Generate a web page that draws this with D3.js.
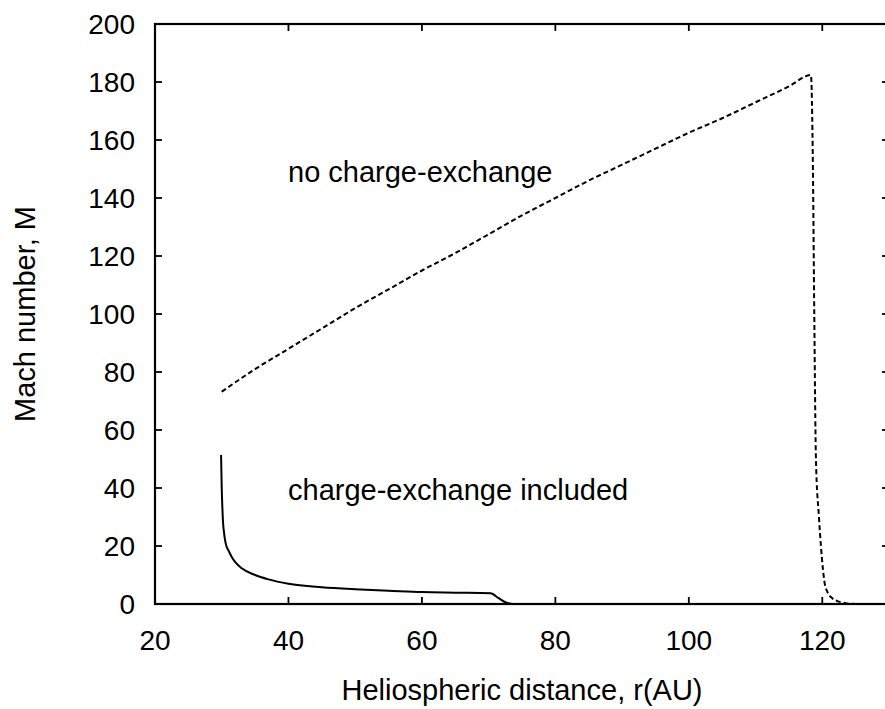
<!DOCTYPE html>
<html lang="en">
<head>
    <meta charset="UTF-8">
    <title>Mach number vs heliospheric distance</title>
    <script src="https://d3js.org/d3.v7.min.js"></script>
    <style>
        body {
            margin: 0;
            background: #fff;
            font-family: "Liberation Sans", Arial, sans-serif;
        }
        svg {
            display: block;
            overflow: hidden;
        }
        .tick-label {
            font-size: 28px;
            fill: #000;
        }
        .axis-title {
            font-size: 29px;
            fill: #000;
        }
        .note {
            font-size: 29px;
            fill: #000;
        }
    </style>
</head>
<body>
    <div id="chart"></div>

    <script>
        // tick labels
        const xTicks = [20, 40, 60, 80, 100, 120];
        const yTicks = [0, 20, 40, 60, 80, 100, 120, 140, 160, 180, 200];

        // dashed curve: no charge-exchange
        const noCxR = [30, 35, 40, 45, 50, 55, 60, 65, 70, 75, 80, 85, 90, 95, 100, 105, 110, 115, 118.3,
                       118.6, 118.8, 119.05, 119.5, 119.8, 120.1, 120.3, 120.8, 121.5, 122.5, 123.5, 125];
        const noCxM = [73.2, 81, 88, 95, 102, 108.5, 115, 121, 127.5, 134, 140, 146, 151.5, 157, 162.5, 167.5, 173, 178.5, 182.4,
                       150, 100, 50, 30, 20, 12, 8, 4, 2, 0.8, 0.3, 0];

        // solid curve: charge-exchange included
        const cxR = [29.9, 30.0, 30.1, 30.2, 30.35, 30.5, 30.7, 31, 31.5, 32, 33, 35, 37, 40, 45, 50, 55, 60, 65, 70.3, 71.5, 72.5, 73.5];
        const cxM = [51.4, 40, 33, 28, 24.5, 22, 20, 18.5, 16.2, 14.5, 12.3, 10, 8.5, 7, 5.8, 5.1, 4.6, 4.1, 3.9, 3.7, 2, 0.6, 0];

        const width = 885, height = 709;
        const plotL = 155, plotR = 889, plotT = 24, plotB = 604;

        const x = d3.scaleLinear().domain([20, 130]).range([plotL, plotR]);
        const y = d3.scaleLinear().domain([0, 200]).range([plotB, plotT]);

        const svg = d3.select('#chart')
            .append('svg')
            .attr('width', width)
            .attr('height', height);

        // ticks pointing inward on all four sides
        const tickLen = 7;
        const g = svg.append('g').attr('stroke', '#000').attr('stroke-width', 1.8);

        xTicks.forEach(v => {
            g.append('line')
                .attr('x1', x(v)).attr('x2', x(v))
                .attr('y1', plotB).attr('y2', plotB - tickLen);
            g.append('line')
                .attr('x1', x(v)).attr('x2', x(v))
                .attr('y1', plotT).attr('y2', plotT + tickLen);
        });
        yTicks.forEach(v => {
            g.append('line')
                .attr('x1', plotL).attr('x2', plotL + tickLen)
                .attr('y1', y(v)).attr('y2', y(v));
            g.append('line')
                .attr('x1', plotR).attr('x2', plotR - tickLen)
                .attr('y1', y(v)).attr('y2', y(v));
        });

        // frame
        svg.append('rect')
            .attr('x', plotL).attr('y', plotT)
            .attr('width', plotR - plotL).attr('height', plotB - plotT)
            .attr('fill', 'none')
            .attr('stroke', '#000')
            .attr('stroke-width', 2.2);

        // tick labels
        svg.selectAll('.xlab')
            .data(xTicks)
            .enter()
            .append('text')
            .attr('class', 'tick-label')
            .attr('x', d => x(d))
            .attr('y', plotB + 46)
            .attr('text-anchor', 'middle')
            .text(d => d);

        svg.selectAll('.ylab')
            .data(yTicks)
            .enter()
            .append('text')
            .attr('class', 'tick-label')
            .attr('x', plotL - 20)
            .attr('y', d => y(d))
            .attr('dy', '0.36em')
            .attr('text-anchor', 'end')
            .text(d => d);

        // axis titles, centred on the plot frame
        svg.append('text')
            .attr('class', 'axis-title')
            .attr('x', (plotL + plotR) / 2)
            .attr('y', 700)
            .attr('text-anchor', 'middle')
            .text('Heliospheric distance, r(AU)');

        svg.append('text')
            .attr('class', 'axis-title')
            .attr('transform', `translate(35,${(plotT + plotB) / 2}) rotate(-90)`)
            .attr('text-anchor', 'middle')
            .text('Mach number, M');

        const line = d3.line()
            .x(d => x(d[0]))
            .y(d => y(d[1]))
            .curve(d3.curveMonotoneX);

        svg.append('path')
            .datum(d3.zip(noCxR, noCxM))
            .attr('d', line)
            .attr('fill', 'none')
            .attr('stroke', '#000')
            .attr('stroke-width', 2)
            .attr('stroke-dasharray', '5,3');

        svg.append('path')
            .datum(d3.zip(cxR, cxM))
            .attr('d', line)
            .attr('fill', 'none')
            .attr('stroke', '#000')
            .attr('stroke-width', 2);

        // in-plot notes
        svg.append('text')
            .attr('class', 'note')
            .attr('x', 288)
            .attr('y', 182)
            .text('no charge-exchange');

        svg.append('text')
            .attr('class', 'note')
            .attr('x', 288)
            .attr('y', 500)
            .text('charge-exchange included');
    </script>
</body>
</html>
